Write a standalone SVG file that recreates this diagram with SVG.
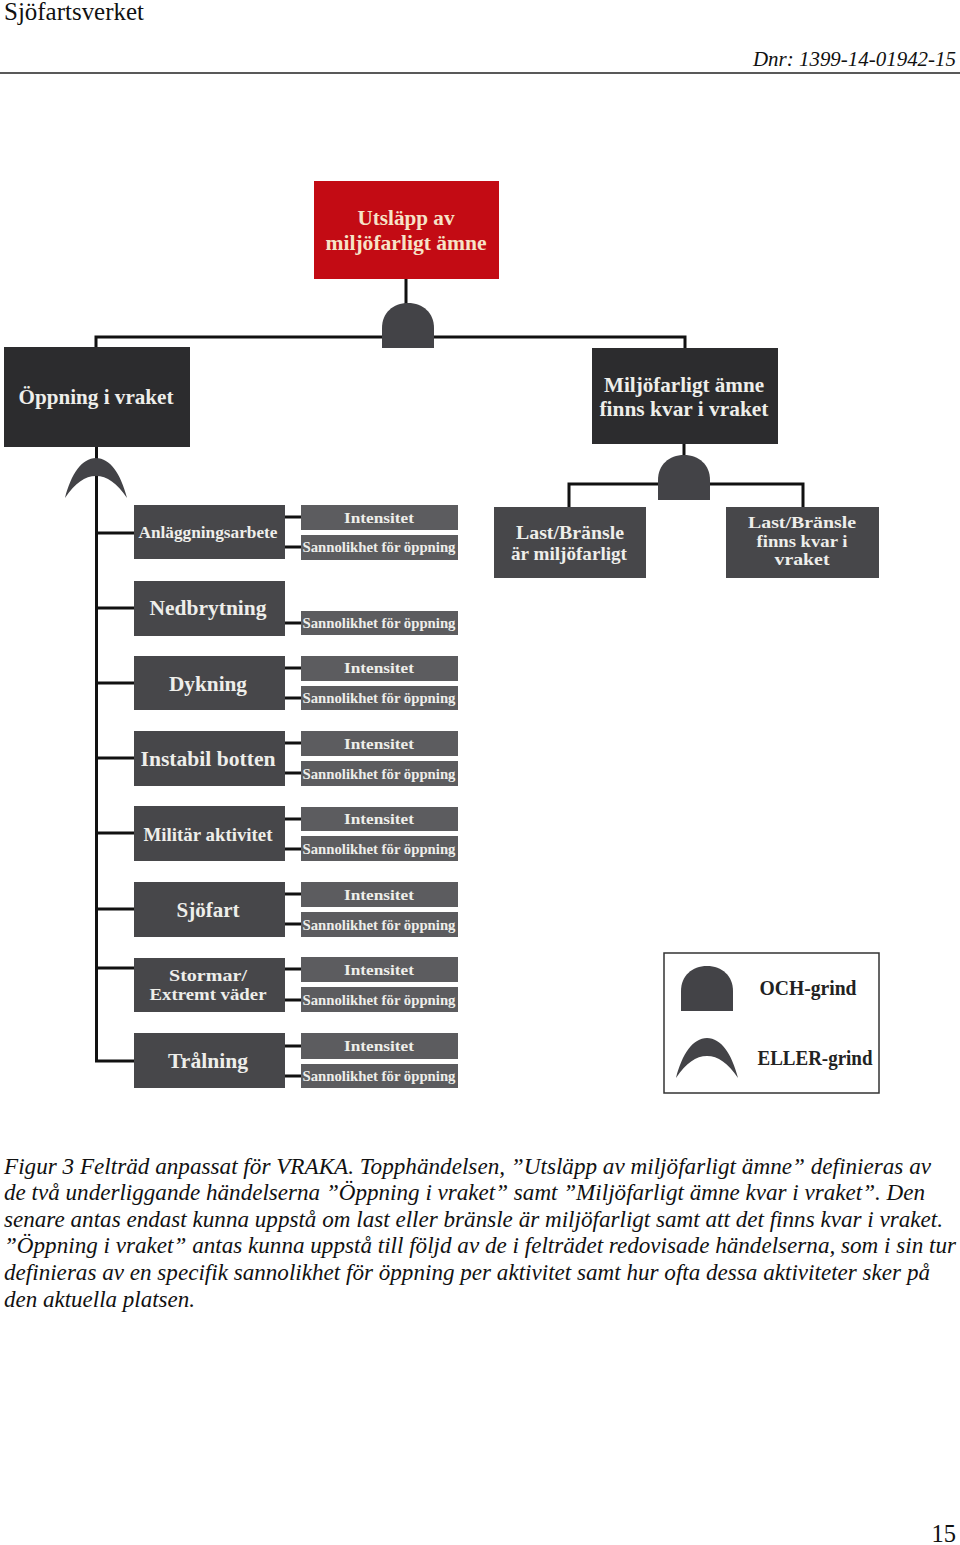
<svg xmlns="http://www.w3.org/2000/svg" width="960" height="1545" viewBox="0 0 960 1545">
<style>
text{font-family:"Liberation Serif","Times New Roman",serif}
.p{font-size:22.5px;font-style:italic;fill:#111}
.l{font-weight:bold;fill:#eeeeea;text-anchor:middle}
.big{font-size:21px}
.mid{font-size:19px}
.s{font-size:15px}
.m{fill:#47474a}
.d{fill:#2c2c2e}
.sm{fill:#5c5c5f}
.g{fill:#434347}
.c{fill:none;stroke:#111;stroke-width:3}
</style>
<defs>
<path id="and" d="M0 45V25C0 10 11 0 26 0S52 10 52 25V45Z"/>
<path id="or" d="M0 40C6 16 17 0 31 0S56 16 62 40C52 25 42 18 31 18S10 25 0 40Z"/>
</defs>
<g id="header">
<text x="4" y="20" font-size="24.5" fill="#111" textLength="140" lengthAdjust="spacingAndGlyphs">Sjöfartsverket</text>
<text x="753" y="66" class="p" style="font-size:21px" textLength="203" lengthAdjust="spacingAndGlyphs">Dnr: 1399-14-01942-15</text>
<path d="M0 73H960" stroke="#222" stroke-width="1.5"/>
</g>
<g id="connectors">
<path class="c" d="M406 279V305M96 347V337H685V348M684 444V455M569 507V484H803V507M96.500 447V1061H134"/>
<path class="c" d="M97 533H134M97 608H134M97 683H134M97 758H134M97 833H134M97 909H134M97 968H134"/>
<path class="c" d="M285 517H301M285 547H301M285 623H301M285 668H301M285 698H301M285 743H301M285 773H301M285 819H301M285 849H301M285 894H301M285 924H301M285 969H301M285 1000H301M285 1046H301M285 1076H301"/>
</g>
<g id="top-event"><rect x="314" y="181" width="185" height="98" fill="#c30b14"/><text class="l big" x="406" y="225" textLength="97" lengthAdjust="spacingAndGlyphs" style="fill:#f6e3c8">Utsläpp av</text><text class="l big" x="406" y="250" textLength="161" lengthAdjust="spacingAndGlyphs" style="fill:#f6e3c8">miljöfarligt ämne</text></g>
<g id="and-top"><use href="#and" x="382" y="303" class="g"/></g>
<g id="oppning"><rect x="4" y="347" width="186" height="100" class="d"/><text class="l big" x="96" y="404" textLength="155" lengthAdjust="spacingAndGlyphs">Öppning i vraket</text></g>
<g id="miljo"><rect x="592" y="348" width="186" height="96" class="d"/><text class="l big" x="684" y="392" textLength="160" lengthAdjust="spacingAndGlyphs">Miljöfarligt ämne</text><text class="l big" x="684" y="416" textLength="169" lengthAdjust="spacingAndGlyphs">finns kvar i vraket</text></g>
<g id="and-miljo"><use href="#and" x="658" y="455" class="g"/></g>
<g id="or-oppning"><use href="#or" x="65" y="458" class="g"/><path d="M96.500 476V505" class="c"/></g>
<g id="last-a"><rect x="494" y="507" width="152" height="71" class="m"/><text class="l mid" x="570" y="539" textLength="108" lengthAdjust="spacingAndGlyphs">Last/Bränsle</text><text class="l mid" x="569" y="560" textLength="116" lengthAdjust="spacingAndGlyphs">är miljöfarligt</text></g>
<g id="last-b"><rect x="726" y="507" width="153" height="71" class="m"/><text class="l" style="font-size:16px" x="802" y="528" textLength="108" lengthAdjust="spacingAndGlyphs">Last/Bränsle</text><text class="l" style="font-size:16px" x="802" y="546.500" textLength="91" lengthAdjust="spacingAndGlyphs">finns kvar i</text><text class="l" style="font-size:16px" x="802" y="565" textLength="55" lengthAdjust="spacingAndGlyphs">vraket</text></g>
<g id="anlaggning"><rect x="134" y="505" width="151" height="54" class="m"/><text class="l s" x="208" y="538" style="font-size:16.500px" textLength="139" lengthAdjust="spacingAndGlyphs">Anläggningsarbete</text><rect x="301" y="505" width="157" height="25" class="sm"/><text class="l s" x="379" y="523" textLength="70" lengthAdjust="spacingAndGlyphs">Intensitet</text><rect x="301" y="535" width="157" height="25" class="sm"/><text class="l s" x="379" y="552" textLength="153" lengthAdjust="spacingAndGlyphs">Sannolikhet för öppning</text></g>
<g id="nedbrytning"><rect x="134" y="581" width="151" height="55" class="m"/><text class="l" style="font-size:20px" x="208" y="615" textLength="117" lengthAdjust="spacingAndGlyphs">Nedbrytning</text><rect x="301" y="611" width="157" height="24" class="sm"/><text class="l s" x="379" y="628" textLength="153" lengthAdjust="spacingAndGlyphs">Sannolikhet för öppning</text></g>
<g id="dykning"><rect x="134" y="656" width="151" height="54" class="m"/><text class="l" style="font-size:20px" x="208" y="691" textLength="78" lengthAdjust="spacingAndGlyphs">Dykning</text><rect x="301" y="656" width="157" height="25" class="sm"/><text class="l s" x="379" y="673" textLength="70" lengthAdjust="spacingAndGlyphs">Intensitet</text><rect x="301" y="686" width="157" height="24" class="sm"/><text class="l s" x="379" y="703" textLength="153" lengthAdjust="spacingAndGlyphs">Sannolikhet för öppning</text></g>
<g id="instabil"><rect x="134" y="731" width="151" height="55" class="m"/><text class="l" style="font-size:20px" x="208" y="766" textLength="135" lengthAdjust="spacingAndGlyphs">Instabil botten</text><rect x="301" y="731" width="157" height="25" class="sm"/><text class="l s" x="379" y="749" textLength="70" lengthAdjust="spacingAndGlyphs">Intensitet</text><rect x="301" y="761" width="157" height="25" class="sm"/><text class="l s" x="379" y="779" textLength="153" lengthAdjust="spacingAndGlyphs">Sannolikhet för öppning</text></g>
<g id="militar"><rect x="134" y="806" width="151" height="55" class="m"/><text class="l mid" x="208" y="841" textLength="129" lengthAdjust="spacingAndGlyphs">Militär aktivitet</text><rect x="301" y="807" width="157" height="24" class="sm"/><text class="l s" x="379" y="824" textLength="70" lengthAdjust="spacingAndGlyphs">Intensitet</text><rect x="301" y="836" width="157" height="25" class="sm"/><text class="l s" x="379" y="854" textLength="153" lengthAdjust="spacingAndGlyphs">Sannolikhet för öppning</text></g>
<g id="sjofart"><rect x="134" y="882" width="151" height="55" class="m"/><text class="l" style="font-size:20px" x="208" y="917" textLength="63" lengthAdjust="spacingAndGlyphs">Sjöfart</text><rect x="301" y="882" width="157" height="25" class="sm"/><text class="l s" x="379" y="900" textLength="70" lengthAdjust="spacingAndGlyphs">Intensitet</text><rect x="301" y="912" width="157" height="25" class="sm"/><text class="l s" x="379" y="930" textLength="153" lengthAdjust="spacingAndGlyphs">Sannolikhet för öppning</text></g>
<g id="stormar"><rect x="134" y="958" width="151" height="54" class="m"/><text class="l" style="font-size:16.500px" x="208" y="981" textLength="78" lengthAdjust="spacingAndGlyphs">Stormar/</text><text class="l" style="font-size:16.500px" x="208" y="1000" textLength="117" lengthAdjust="spacingAndGlyphs">Extremt väder</text><rect x="301" y="957" width="157" height="25" class="sm"/><text class="l s" x="379" y="975" textLength="70" lengthAdjust="spacingAndGlyphs">Intensitet</text><rect x="301" y="987" width="157" height="25" class="sm"/><text class="l s" x="379" y="1005" textLength="153" lengthAdjust="spacingAndGlyphs">Sannolikhet för öppning</text></g>
<g id="tralning"><rect x="134" y="1033" width="151" height="55" class="m"/><text class="l" style="font-size:22px" x="208" y="1068" textLength="80" lengthAdjust="spacingAndGlyphs">Trålning</text><rect x="301" y="1033" width="157" height="26" class="sm"/><text class="l s" x="379" y="1051" textLength="70" lengthAdjust="spacingAndGlyphs">Intensitet</text><rect x="301" y="1064" width="157" height="24" class="sm"/><text class="l s" x="379" y="1081" textLength="153" lengthAdjust="spacingAndGlyphs">Sannolikhet för öppning</text></g>
<g id="legend"><rect x="664" y="953" width="215" height="140" fill="#fff" stroke="#333" stroke-width="1.500"/><use href="#and" x="681" y="966" class="g"/><use href="#or" x="676" y="1038" class="g"/><text x="808" y="995" text-anchor="middle" font-weight="bold" font-size="20" fill="#222" textLength="97" lengthAdjust="spacingAndGlyphs">OCH-grind</text><text x="815" y="1065" text-anchor="middle" font-weight="bold" font-size="20" fill="#222" textLength="115" lengthAdjust="spacingAndGlyphs">ELLER-grind</text></g>
<g id="caption">
<text class="p" x="4" y="1174" textLength="927" lengthAdjust="spacingAndGlyphs">Figur 3 Felträd anpassat för VRAKA. Topphändelsen, ”Utsläpp av miljöfarligt ämne” definieras av</text>
<text class="p" x="4" y="1200" textLength="921" lengthAdjust="spacingAndGlyphs">de två underliggande händelserna ”Öppning i vraket” samt ”Miljöfarligt ämne kvar i vraket”. Den</text>
<text class="p" x="4" y="1227" textLength="939" lengthAdjust="spacingAndGlyphs">senare antas endast kunna uppstå om last eller bränsle är miljöfarligt samt att det finns kvar i vraket.</text>
<text class="p" x="4" y="1253" textLength="952" lengthAdjust="spacingAndGlyphs">”Öppning i vraket” antas kunna uppstå till följd av de i felträdet redovisade händelserna, som i sin tur</text>
<text class="p" x="4" y="1280" textLength="926" lengthAdjust="spacingAndGlyphs">definieras av en specifik sannolikhet för öppning per aktivitet samt hur ofta dessa aktiviteter sker på</text>
<text class="p" x="4" y="1307" textLength="191" lengthAdjust="spacingAndGlyphs">den aktuella platsen.</text>
</g>
<text id="page" x="956" y="1542" font-size="24.500" text-anchor="end" fill="#111">15</text>
</svg>
